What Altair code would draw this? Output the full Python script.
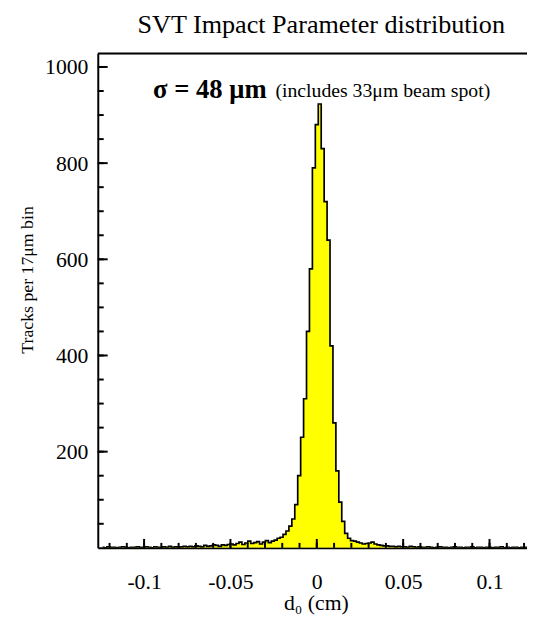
import altair as alt
import pandas as pd

# ---- data ----
bin_width_cm = 0.0017   # 17 um bins
k_start = -73           # index of first bin centre (centre = k * bin width)
counts = (
    # far left tail
    [1, 0, 2, 1, 1, 0, 1, 2, 1, 0, 1, 1, 2, 1]
    + [1, 2, 1, 0, 2, 1, 1, 2, 1, 3, 1, 2, 1, 2, 3]
    + [2, 3, 2, 4, 3, 2, 5, 3, 4, 6, 5, 3, 6, 5, 7]
    # near left tail
    + [8, 6, 9, 12, 7, 10, 14, 9, 11, 13, 8, 12, 15, 11, 14, 16, 20]
    # left flank
    + [22, 28, 35, 45, 60, 90, 150, 230, 310, 450, 580, 790]
    # peak and right flank
    + [880, 923, 830, 720, 640, 420, 260, 160, 95, 55, 30, 20, 15]
    # right tail
    + [14, 12, 10, 8, 9, 10, 12, 8, 6, 5, 4, 4, 3, 3, 2, 3, 2]
    + [2, 1, 3, 2, 1, 2, 1, 1, 2, 1, 0, 1, 2, 1, 1, 0, 1, 2, 1, 1, 0, 1,
       1, 2, 0, 1, 1, 0, 1, 1, 0, 1, 1, 2, 0, 1, 0, 1, 1, 0, 1, 1, 0, 1]
)
x_label_values = [-0.1, -0.05, 0, 0.05, 0.1]
x_minor_ticks = [round(i * 0.01, 2) for i in range(-12, 13)]
y_label_values = [200, 400, 600, 800, 1000]
y_minor_ticks = list(range(50, 1001, 50))

title_text = "SVT Impact Parameter distribution"
x_title = "d\u2080 (cm)"
y_title = "Tracks per 17\u03bcm bin"
note_bold = "\u03c3 = 48 \u03bcm"
note_small = "(includes 33\u03bcm beam spot)"

X_DOMAIN = [-0.1268, 0.1217]
Y_DOMAIN = [0, 1028]
W, H = 435, 501
FONT = "Liberation Serif"

hist = pd.DataFrame({
    "d0": [(k_start + i) * bin_width_cm for i in range(len(counts))],
    "n": counts,
})

xs = alt.Scale(domain=X_DOMAIN, nice=False, zero=False)
ys = alt.Scale(domain=Y_DOMAIN, nice=False)

base = alt.Chart(hist)

area = base.mark_area(interpolate="step", color="#ffff00", clip=True).encode(
    x=alt.X("d0:Q", scale=xs,
            axis=alt.Axis(values=x_label_values, ticks=False, grid=False,
                          domainColor="black", domainWidth=2,
                          labelFont=FONT, labelFontSize=22, labelColor="black",
                          labelPadding=24,
                          labelExpr="datum.value < 0 ? '-' + format(-datum.value, '') : format(datum.value, '')",
                          title=x_title, titleFont=FONT, titleFontSize=22,
                          titleFontWeight="normal", titleColor="black",
                          titleX=221, titleY=56, titleBaseline="middle")),
    y=alt.Y("n:Q", scale=ys, stack=None,
            axis=alt.Axis(values=y_label_values, ticks=False, grid=False,
                          format="d",
                          domainColor="black", domainWidth=2,
                          labelFont=FONT, labelFontSize=22, labelColor="black",
                          labelPadding=10,
                          title=y_title, titleFont=FONT, titleFontSize=18,
                          titleFontWeight="normal", titleColor="black",
                          titleAngle=270, titleX=-71, titleY=229,
                          titleAlign="center", titleBaseline="middle")),
)

outline = base.mark_line(interpolate="step", color="black", strokeWidth=1.7,
                         clip=True).encode(
    x=alt.X("d0:Q", scale=xs), y=alt.Y("n:Q", scale=ys))

# inward ticks
ymaj = alt.Chart(pd.DataFrame({"yv": y_label_values})).mark_rule(
    color="#000000", strokeWidth=2).encode(
    y=alt.Y("yv:Q", scale=ys), x=alt.value(0), x2=alt.value(10))
ymin = alt.Chart(pd.DataFrame({"yv": y_minor_ticks})).mark_rule(
    color="#000000", strokeWidth=2).encode(
    y=alt.Y("yv:Q", scale=ys), x=alt.value(0), x2=alt.value(6))
xmaj = alt.Chart(pd.DataFrame({"xv": x_label_values})).mark_rule(
    color="#000000", strokeWidth=2).encode(
    x=alt.X("xv:Q", scale=xs), y=alt.value(H), y2=alt.value(H - 9))
xmin = alt.Chart(pd.DataFrame({"xv": x_minor_ticks})).mark_rule(
    color="#000000", strokeWidth=2).encode(
    x=alt.X("xv:Q", scale=xs), y=alt.value(H), y2=alt.value(H - 5))

top_line = alt.Chart(pd.DataFrame({"a": [0]})).mark_rule(
    color="black", strokeWidth=2).encode(
    x=alt.value(0), x2=alt.value(W), y=alt.value(0))

notes = pd.DataFrame({"t": [note_bold, note_small]})
note1 = alt.Chart(notes.iloc[[0]]).mark_text(
    font=FONT, fontSize=27, fontWeight="bold", align="left",
    baseline="middle", color="black").encode(
    text="t:N", x=alt.value(56), y=alt.value(37))
note2 = alt.Chart(notes.iloc[[1]]).mark_text(
    font=FONT, fontSize=20, fontWeight="normal", align="left",
    baseline="middle", color="black").encode(
    text="t:N", x=alt.value(180), y=alt.value(38))

chart = alt.layer(area, outline, ymaj, ymin, xmaj, xmin, top_line, note1, note2).properties(
    width=W, height=H,
    title=alt.TitleParams(title_text, font=FONT, fontSize=26.5,
                          fontWeight="normal", color="black",
                          anchor="middle", dx=9, offset=14),
    autosize=alt.AutoSizeParams(type="none"),
    padding={"left": 91, "top": 42, "right": 0, "bottom": 67},
).configure_view(stroke=None).configure(background="white")

chart.save("out.html", embed_options={"renderer": "svg", "actions": False})
